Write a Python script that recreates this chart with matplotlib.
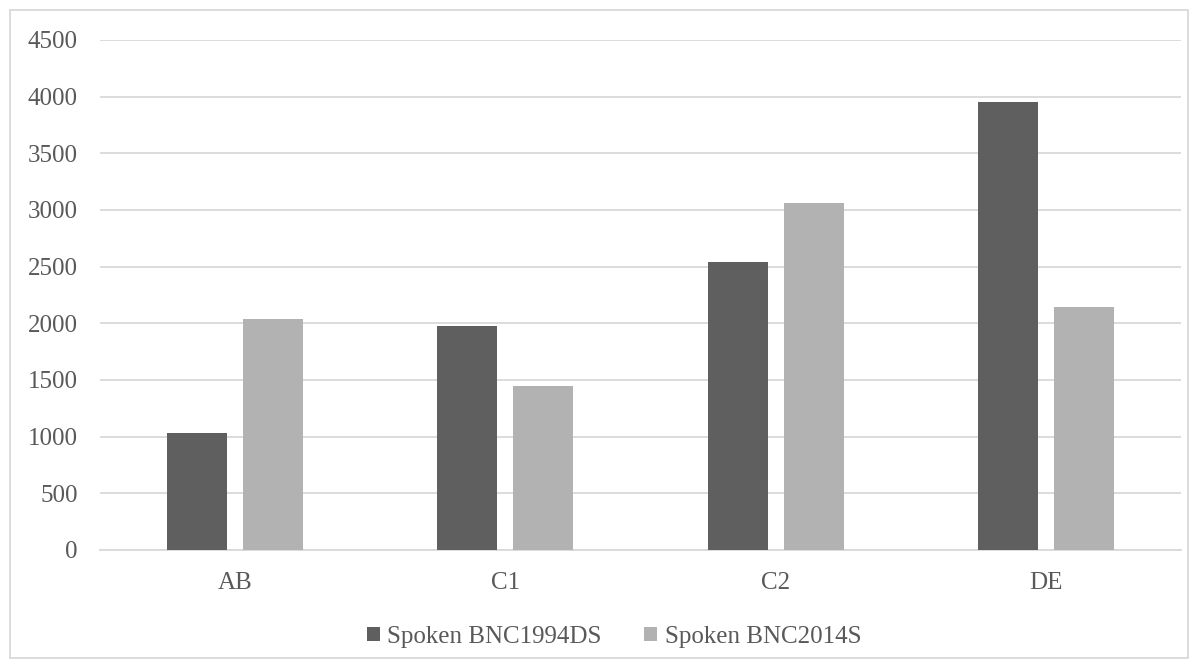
import matplotlib.pyplot as plt
import numpy as np
from matplotlib.patches import Rectangle

categories = ['AB', 'C1', 'C2', 'DE']
bnc1994 = [1035, 1980, 2540, 3950]
bnc2014 = [2035, 1445, 3060, 2140]
series_names = ['Spoken BNC1994DS', 'Spoken BNC2014S']
yticks = list(range(0, 4501, 500))

plt.rcParams['font.family'] = ['Liberation Serif', 'DejaVu Serif']
text_color = '#595959'

fig = plt.figure(figsize=(11.98, 6.68), dpi=100)
ax = fig.add_axes([100 / 1198, 118 / 668, 1081 / 1198, 510 / 668])

x = np.arange(len(categories))
w = 0.222
off = 0.141
ax.bar(x - off, bnc1994, width=w, color='#5f5f5f', label=series_names[0], zorder=3)
ax.bar(x + off, bnc2014, width=w, color='#b2b2b2', label=series_names[1], zorder=3)

ax.set_xlim(-0.5, len(categories) - 0.5)
ax.set_ylim(0, 4500)
ax.set_yticks(yticks)
ax.set_xticks(x)
ax.set_xticklabels(categories)
ax.yaxis.grid(True, color='#d9d9d9', linewidth=1.3, zorder=0)
ax.tick_params(axis='both', length=0, labelsize=18, labelcolor=text_color)
ax.tick_params(axis='y', pad=16)
ax.tick_params(axis='x', pad=16)
for s in ['top', 'right', 'left']:
    ax.spines[s].set_visible(False)
ax.spines['bottom'].set_color('#d9d9d9')
ax.spines['bottom'].set_linewidth(1.3)

leg = fig.legend(loc='center', bbox_to_anchor=(614 / 1198, 1 - 637 / 668), ncol=2,
                 frameon=False, fontsize=18, handlelength=0.52, handleheight=0.52,
                 handletextpad=0.3, columnspacing=1.7)
for t in leg.get_texts():
    t.set_color(text_color)

fig.patches.append(Rectangle((10 / 1198, 10 / 668), 1178 / 1198, 648 / 668,
                             transform=fig.transFigure, fill=False,
                             edgecolor='#d9d9d9', linewidth=1.3))

fig.savefig('out.png', dpi=100)
